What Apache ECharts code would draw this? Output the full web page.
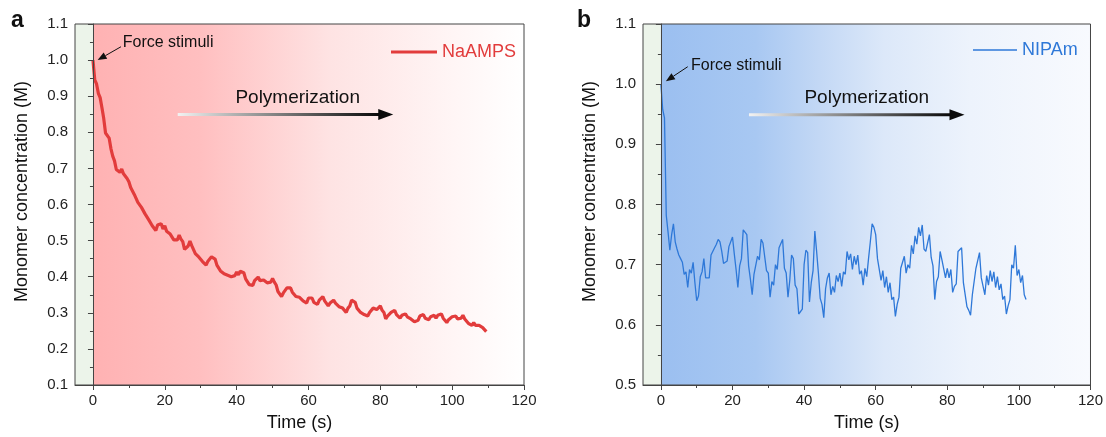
<!DOCTYPE html>
<html>
<head>
<meta charset="utf-8">
<title>Monomer concentration during force-triggered polymerization</title>
<script src="https://cdn.jsdelivr.net/npm/echarts@6/dist/echarts.min.js"></script>
<style>
  html, body { margin: 0; padding: 0; background: #ffffff; }
  #chart { width: 1106px; height: 437px; }
</style>
</head>
<body>
<div id="chart"></div>
<script>
// Readings are taken every SAMPLE_STEP seconds, starting at t = 0 s.
const SAMPLE_STEP = 0.5;

// NaAMPS monomer concentration (M), 0 – 109.5 s
const naampsConc = [
  1.000, 0.945, 0.934, 0.908, 0.896, 0.868, 0.838, 0.798, 0.795, 0.784,
  0.755, 0.734, 0.721, 0.697, 0.700, 0.689, 0.698, 0.685, 0.685, 0.672,
  0.663, 0.647, 0.644, 0.628, 0.623, 0.606, 0.607, 0.592, 0.591, 0.574,
  0.573, 0.558, 0.556, 0.541, 0.538, 0.528, 0.543, 0.545, 0.547, 0.532,
  0.541, 0.526, 0.530, 0.518, 0.517, 0.502, 0.503, 0.502, 0.515, 0.504,
  0.497, 0.476, 0.481, 0.485, 0.499, 0.486, 0.481, 0.464, 0.465, 0.454,
  0.455, 0.442, 0.443, 0.432, 0.443, 0.444, 0.455, 0.451, 0.449, 0.432,
  0.431, 0.416, 0.419, 0.408, 0.411, 0.404, 0.405, 0.400, 0.405, 0.403,
  0.413, 0.405, 0.415, 0.410, 0.411, 0.394, 0.391, 0.378, 0.379, 0.376,
  0.389, 0.389, 0.399, 0.389, 0.393, 0.391, 0.395, 0.383, 0.385, 0.385,
  0.395, 0.385, 0.377, 0.359, 0.355, 0.345, 0.355, 0.357, 0.369, 0.365,
  0.369, 0.357, 0.357, 0.345, 0.347, 0.343, 0.343, 0.333, 0.335, 0.327,
  0.341, 0.341, 0.341, 0.329, 0.331, 0.323, 0.335, 0.335, 0.345, 0.333,
  0.331, 0.319, 0.327, 0.325, 0.335, 0.327, 0.329, 0.317, 0.321, 0.313,
  0.313, 0.301, 0.313, 0.319, 0.335, 0.331, 0.329, 0.313, 0.311, 0.301,
  0.303, 0.295, 0.298, 0.291, 0.301, 0.301, 0.313, 0.309, 0.309, 0.309,
  0.319, 0.307, 0.301, 0.283, 0.291, 0.291, 0.301, 0.299, 0.307, 0.295,
  0.295, 0.285, 0.293, 0.289, 0.297, 0.289, 0.293, 0.283, 0.285, 0.275,
  0.279, 0.279, 0.291, 0.291, 0.295, 0.285, 0.289, 0.281, 0.289, 0.285,
  0.293, 0.285, 0.293, 0.290, 0.297, 0.285, 0.283, 0.273, 0.281, 0.279,
  0.289, 0.286, 0.291, 0.283, 0.287, 0.285, 0.293, 0.283, 0.283, 0.271,
  0.271, 0.265, 0.273, 0.265, 0.269, 0.265, 0.269, 0.259, 0.259, 0.248
];

// NIPAm monomer concentration (M), 0 – 102 s
const nipamConc = [
  1.000, 0.958, 0.944, 0.782, 0.754, 0.724, 0.750, 0.768, 0.738, 0.726,
  0.716, 0.710, 0.704, 0.684, 0.688, 0.662, 0.692, 0.686, 0.704, 0.670,
  0.640, 0.648, 0.680, 0.688, 0.710, 0.678, 0.676, 0.678, 0.716, 0.718,
  0.728, 0.734, 0.742, 0.738, 0.722, 0.702, 0.700, 0.706, 0.730, 0.732,
  0.746, 0.718, 0.692, 0.662, 0.698, 0.710, 0.758, 0.760, 0.750, 0.698,
  0.676, 0.650, 0.684, 0.684, 0.714, 0.708, 0.742, 0.736, 0.736, 0.690,
  0.686, 0.646, 0.672, 0.666, 0.700, 0.692, 0.728, 0.726, 0.742, 0.694,
  0.686, 0.646, 0.674, 0.716, 0.710, 0.666, 0.660, 0.618, 0.620, 0.626,
  0.700, 0.724, 0.720, 0.638, 0.670, 0.690, 0.756, 0.722, 0.686, 0.644,
  0.634, 0.612, 0.660, 0.678, 0.686, 0.650, 0.664, 0.654, 0.682, 0.672,
  0.686, 0.664, 0.688, 0.684, 0.722, 0.708, 0.718, 0.692, 0.714, 0.700,
  0.716, 0.684, 0.690, 0.666, 0.694, 0.680, 0.710, 0.738, 0.768, 0.762,
  0.750, 0.710, 0.710, 0.674, 0.690, 0.662, 0.680, 0.654, 0.670, 0.642,
  0.646, 0.614, 0.634, 0.646, 0.694, 0.704, 0.714, 0.686, 0.700, 0.694,
  0.732, 0.718, 0.748, 0.734, 0.762, 0.748, 0.766, 0.726, 0.722, 0.720,
  0.750, 0.712, 0.698, 0.642, 0.672, 0.680, 0.722, 0.708, 0.710, 0.678,
  0.694, 0.678, 0.692, 0.654, 0.664, 0.668, 0.722, 0.724, 0.728, 0.670,
  0.670, 0.630, 0.624, 0.616, 0.650, 0.650, 0.694, 0.696, 0.720, 0.678,
  0.664, 0.650, 0.682, 0.666, 0.690, 0.672, 0.688, 0.662, 0.680, 0.658,
  0.668, 0.642, 0.648, 0.618, 0.632, 0.642, 0.700, 0.694, 0.732, 0.682,
  0.692, 0.670, 0.682, 0.650, 0.642
];

const timeMajorTicks = [0, 20, 40, 60, 80, 100, 120];
const timeMinorTicks = [10, 30, 50, 70, 90, 110];

const FONT = '"Liberation Sans", Arial, Helvetica, sans-serif';
const AXIS_COLOR = '#444444';
const RED = '#e23c3c';
const BLUE = '#2e78d8';

function toPairs(values) {
  return values.map((v, i) => [i * SAMPLE_STEP, v]);
}

const chart = echarts.init(document.getElementById('chart'), null, { renderer: 'canvas' });

function gridBox(left, top, width, height) {
  return {
    left, top, width, height,
    show: true,
    backgroundColor: 'transparent',
    borderColor: AXIS_COLOR,
    borderWidth: 1,
    z: 10
  };
}

function timeAxis(gridIndex) {
  return {
    type: 'value', gridIndex, position: 'bottom',
    min: -5, max: 120,
    name: 'Time (s)', nameLocation: 'middle', nameGap: 29,
    nameTextStyle: { fontSize: 18, color: '#111', fontFamily: FONT },
    axisLine: { show: true, lineStyle: { color: AXIS_COLOR, width: 1 } },
    axisTick: { show: true, length: 5, customValues: timeMajorTicks, lineStyle: { color: AXIS_COLOR } },
    axisLabel: { customValues: timeMajorTicks, fontSize: 15, color: '#222', fontFamily: FONT, margin: 8 },
    splitLine: { show: false },
    z: 10
  };
}

function timeMinorAxis(gridIndex) {
  return {
    type: 'value', gridIndex, position: 'bottom',
    min: -5, max: 120,
    axisLine: { show: false },
    axisTick: { show: true, length: 3, customValues: timeMinorTicks, lineStyle: { color: AXIS_COLOR } },
    axisLabel: { show: false },
    splitLine: { show: false },
    z: 10
  };
}

function concAxis(gridIndex, min, max) {
  return {
    type: 'value', gridIndex, position: 'left',
    min, max, interval: 0.1,
    name: 'Monomer concentration (M)', nameLocation: 'middle', nameGap: 44,
    nameTextStyle: { fontSize: 18, color: '#111', fontFamily: FONT, padding: [0, 0, 0, 26] },
    axisLine: { show: true, lineStyle: { color: AXIS_COLOR, width: 1 } },
    axisTick: { show: true, length: 5, lineStyle: { color: AXIS_COLOR } },
    minorTick: { show: true, splitNumber: 2, length: 3, lineStyle: { color: AXIS_COLOR } },
    axisLabel: { fontSize: 15, color: '#222', fontFamily: FONT, margin: 7, formatter: v => v.toFixed(1) },
    splitLine: { show: false },
    z: 10
  };
}

function shading(xAxisIndex, yAxisIndex, stops) {
  return {
    type: 'line', xAxisIndex, yAxisIndex, data: [], silent: true, z: 1,
    markArea: {
      silent: true,
      data: [
        [{ xAxis: -5, itemStyle: { color: '#ecf4ea' } }, { xAxis: 0 }],
        [{ xAxis: 0, itemStyle: { color: new echarts.graphic.LinearGradient(0, 0, 1, 0, stops) } }, { xAxis: 120 }]
      ]
    }
  };
}

chart.setOption({
  animation: false,
  textStyle: { fontFamily: FONT },
  title: [
    { text: 'a', left: 11, top: 9, padding: 0, textStyle: { fontSize: 23, fontWeight: 'bold', color: '#111', fontFamily: FONT } },
    { text: 'b', left: 577, top: 9, padding: 0, textStyle: { fontSize: 23, fontWeight: 'bold', color: '#111', fontFamily: FONT } }
  ],
  legend: [
    {
      data: [{ name: 'NaAMPS', icon: 'rect' }], left: 386, top: 38, itemWidth: 46, itemHeight: 3,
      textStyle: { color: RED, fontSize: 18, fontFamily: FONT }
    },
    {
      data: [{ name: 'NIPAm', icon: 'rect' }], left: 968, top: 36, itemWidth: 44, itemHeight: 1.5,
      textStyle: { color: BLUE, fontSize: 18, fontFamily: FONT }
    }
  ],
  grid: [gridBox(75, 24, 449, 363), gridBox(643, 24, 448, 361)],
  xAxis: [timeAxis(0), timeMinorAxis(0), timeAxis(1), timeMinorAxis(1)],
  yAxis: [concAxis(0, 0.1, 1.1), concAxis(1, 0.5, 1.1)],
  series: [
    shading(0, 0, [
      { offset: 0, color: '#ffb2b3' },
      { offset: 0.25, color: '#ffbfc0' },
      { offset: 0.55, color: '#fee3e3' },
      { offset: 0.85, color: '#fff6f6' },
      { offset: 1, color: '#ffffff' }
    ]),
    shading(2, 1, [
      { offset: 0, color: '#9bbff0' },
      { offset: 0.22, color: '#a8c8f2' },
      { offset: 0.37, color: '#c3d8f5' },
      { offset: 0.52, color: '#dce8f9' },
      { offset: 0.72, color: '#edf3fc' },
      { offset: 1, color: '#f8fafe' }
    ]),
    {
      name: 'NaAMPS', type: 'line', xAxisIndex: 0, yAxisIndex: 0, z: 5,
      data: toPairs(naampsConc), symbol: 'none', showSymbol: false,
      lineStyle: { color: RED, width: 3.2 }, itemStyle: { color: RED }
    },
    {
      name: 'NIPAm', type: 'line', xAxisIndex: 2, yAxisIndex: 1, z: 5,
      data: toPairs(nipamConc), symbol: 'none', showSymbol: false,
      lineStyle: { color: BLUE, width: 1.3 }, itemStyle: { color: BLUE }
    }
  ]
});

// Annotations, placed in data coordinates of each panel
const annotations = [
  {
    axes: { xAxisIndex: 0, yAxisIndex: 0 },
    stimulusText: [8.3, 1.048], stimulusFrom: [7.8, 1.037], stimulusTo: [1.3, 1.0],
    processText: [57, 0.896], processFrom: [23.6, 0.849], processTo: [83.6, 0.849]
  },
  {
    axes: { xAxisIndex: 2, yAxisIndex: 1 },
    stimulusText: [8.4, 1.031], stimulusFrom: [7.5, 1.029], stimulusTo: [1.4, 1.005],
    processText: [57.5, 0.977], processFrom: [24.6, 0.949], processTo: [84.8, 0.949]
  }
];

const graphics = [];
annotations.forEach(a => {
  const px = p => chart.convertToPixel(a.axes, p);
  const t = px(a.stimulusText);
  graphics.push({
    type: 'text', x: t[0], y: t[1], z: 20,
    style: { text: 'Force stimuli', fontSize: 16, fontFamily: FONT, fill: '#111', verticalAlign: 'middle', align: 'left' }
  });
  const f = px(a.stimulusFrom), to = px(a.stimulusTo);
  const dx = to[0] - f[0], dy = to[1] - f[1];
  const len = Math.hypot(dx, dy), ux = dx / len, uy = dy / len;
  const hl = 9, hw = 3.6;
  const bx = to[0] - ux * hl, by = to[1] - uy * hl;
  graphics.push({
    type: 'line', z: 20,
    shape: { x1: f[0], y1: f[1], x2: bx, y2: by },
    style: { stroke: '#111', lineWidth: 1 }
  });
  graphics.push({
    type: 'polygon', z: 20,
    shape: { points: [[to[0], to[1]], [bx - uy * hw, by + ux * hw], [bx + uy * hw, by - ux * hw]] },
    style: { fill: '#111' }
  });

  const pt = px(a.processText);
  graphics.push({
    type: 'text', x: pt[0], y: pt[1], z: 20,
    style: { text: 'Polymerization', fontSize: 19, fontFamily: FONT, fill: '#111', verticalAlign: 'middle', align: 'center' }
  });
  const p0 = px(a.processFrom), p1 = px(a.processTo);
  const headLen = 15, headHalf = 5.5;
  graphics.push({
    type: 'rect', z: 20,
    shape: { x: p0[0], y: p0[1] - 1.5, width: p1[0] - p0[0] - headLen + 1, height: 3 },
    style: {
      fill: new echarts.graphic.LinearGradient(0, 0, 1, 0, [
        { offset: 0, color: '#f2f2f2' },
        { offset: 0.45, color: '#8a8a8a' },
        { offset: 1, color: '#0a0a0a' }
      ])
    }
  });
  graphics.push({
    type: 'polygon', z: 20,
    shape: { points: [[p1[0], p1[1]], [p1[0] - headLen, p1[1] - headHalf], [p1[0] - headLen, p1[1] + headHalf]] },
    style: { fill: '#0a0a0a' }
  });
});

chart.setOption({ graphic: graphics });
</script>
</body>
</html>
